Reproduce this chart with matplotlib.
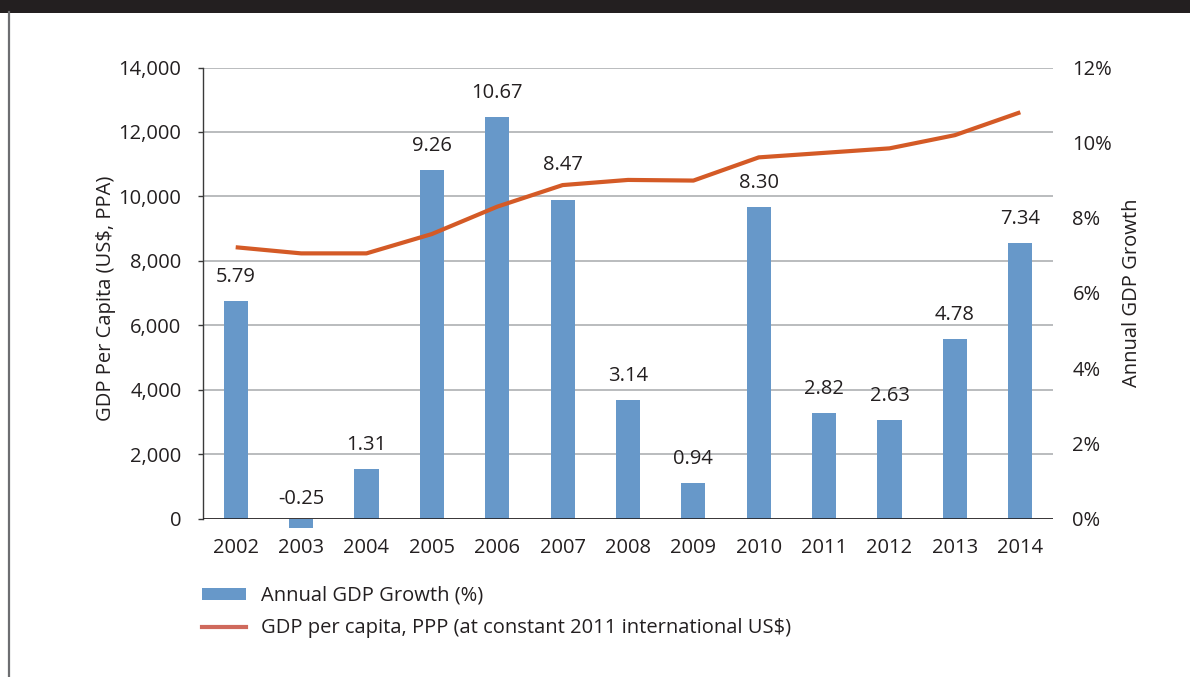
import matplotlib.pyplot as plt
from matplotlib.patches import Patch, Rectangle
from matplotlib.lines import Line2D
from matplotlib.ticker import FuncFormatter
import numpy as np

plt.rcParams['font.family'] = ['Open Sans', 'DejaVu Sans']

years = ['2002', '2003', '2004', '2005', '2006', '2007', '2008',
         '2009', '2010', '2011', '2012', '2013', '2014']
growth = [5.79, -0.25, 1.31, 9.26, 10.67, 8.47, 3.14,
          0.94, 8.30, 2.82, 2.63, 4.78, 7.34]
gdp_pc = [8420, 8230, 8230, 8830, 9680, 10350, 10510,
          10490, 11210, 11350, 11490, 11900, 12610]

bar_color = '#6798c9'
line_color = '#d45a26'
txt_color = '#231f20'
fs = 14.5

fig = plt.figure(figsize=(11.9, 6.77), dpi=100)

# header bar and left frame line
fig.add_artist(Rectangle((0, 1 - 12.5 / 677), 1, 12.5 / 677, transform=fig.transFigure,
                         facecolor='#231f20', edgecolor='none'))
fig.add_artist(Line2D([8.5 / 1190, 8.5 / 1190], [0, 1 - 12 / 677], transform=fig.transFigure,
                      color='#6d6e71', lw=1.6))

ax = fig.add_axes([203 / 1190, 1 - 518.5 / 677, 850 / 1190, 451 / 677])
ax2 = ax.twinx()
ax3 = ax.twinx()

x = np.arange(len(years))

# left axis: GDP per capita, gridlines
ax.set_xlim(-0.5, len(years) - 0.5)
ax.set_ylim(0, 14000)
ax.set_yticks(np.arange(0, 14001, 2000))
ax.yaxis.set_major_formatter(FuncFormatter(lambda v, p: f'{int(v):,}'))
ax.grid(axis='y', color='#a7a9ac', lw=1.1)
ax.set_axisbelow(True)
for s in ['top', 'right', 'bottom']:
    ax.spines[s].set_visible(False)
ax.spines['left'].set_color('#3a3a3a')
ax.spines['left'].set_linewidth(1.0)
ax.tick_params(axis='y', length=3.5, width=1.0, color='#3a3a3a', pad=12,
               labelsize=fs, labelcolor=txt_color)
ax.tick_params(axis='x', length=0, pad=14, labelsize=fs, labelcolor=txt_color)
ax.set_xticks(x)
ax.set_xticklabels(years)
ax.set_ylabel('GDP Per Capita (US$, PPA)', fontsize=fs, color=txt_color)
ax.yaxis.set_label_coords((116 - 203) / 850, (518.5 - 298) / 451)

# right axis: annual growth bars
ax2.bar(x, growth, width=0.37, color=bar_color, zorder=2, clip_on=False)
ax2.axhline(0, color='#231f20', lw=1.2, zorder=3)
ax2.set_ylim(0, 12)
ax2.set_yticks(np.arange(0, 13, 2))
ax2.yaxis.set_major_formatter(FuncFormatter(lambda v, p: f'{int(v)}%'))
for s in ['top', 'right', 'bottom', 'left']:
    ax2.spines[s].set_visible(False)
ax2.tick_params(axis='y', length=0, pad=14, labelsize=fs, labelcolor=txt_color)
ax2.set_ylabel('Annual GDP Growth', fontsize=fs, color=txt_color)
ax2.yaxis.set_label_coords((1122 - 203) / 850, (518.5 - 293) / 451)

nudge = {1: -4, 5: 11}
for i, v in enumerate(growth):
    ax2.annotate(f'{v:.2f}', (x[i], max(v, 0)), xytext=(0, (24 + nudge.get(i, 0)) * 0.72),
                 textcoords='offset points', ha='center', va='center',
                 fontsize=fs, color=txt_color, zorder=5)

# line on top of the bars, same scale as the left axis
ax3.plot(x, gdp_pc, color=line_color, lw=3.0, solid_capstyle='butt', zorder=4)
ax3.set_ylim(0, 14000)
ax3.set_axis_off()

handles = [Patch(facecolor=bar_color, edgecolor='none'),
           Line2D([], [], color='#cf695c', lw=3.0)]
labels = ['Annual GDP Growth (%)', 'GDP per capita, PPP (at constant 2011 international US$)']
fig.legend(handles, labels, loc='upper left', bbox_to_anchor=(202 / 1190, 1 - 586 / 677),
           frameon=False, fontsize=fs, handlelength=2.2, handleheight=0.5,
           handletextpad=0.75, labelspacing=0.6, borderpad=0, borderaxespad=0,
           labelcolor=txt_color)

fig.savefig('out.png', dpi=100)
